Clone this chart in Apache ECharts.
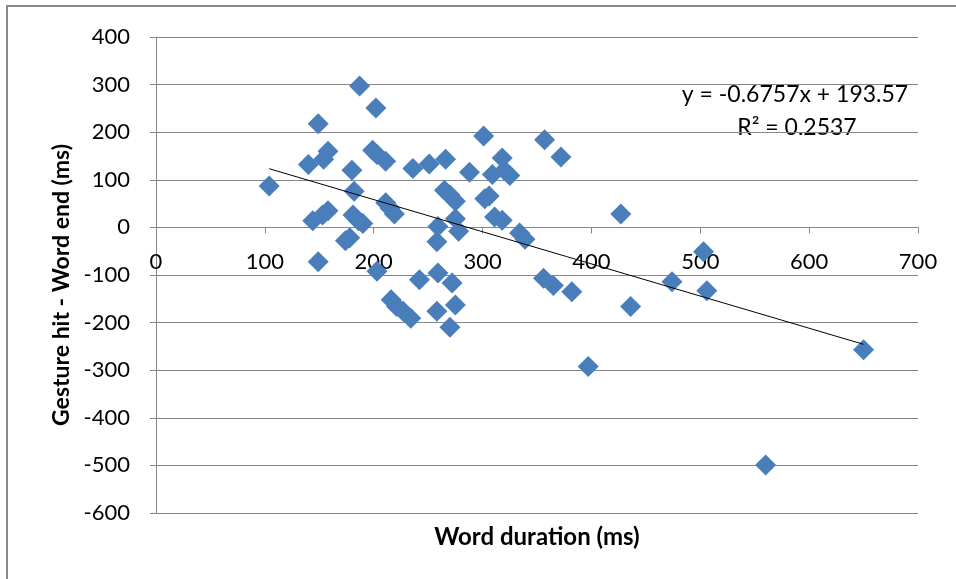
<!DOCTYPE html>
<html>
<head>
<meta charset="utf-8">
<script src="https://cdn.jsdelivr.net/npm/echarts@6/dist/echarts.min.js"></script>
<style>
  html, body { margin: 0; padding: 0; background: #fff; }
  #chart { width: 956px; height: 579px; }
</style>
</head>
<body>
<div id="chart"></div>
<script>
// Word duration (ms) for each observation
var wordDuration = [
  187, 202, 149, 158, 154, 140, 199, 203, 211, 180,
  104, 182, 211, 215, 219, 153, 144, 158, 181, 190,
  186, 174, 178, 149,
  301, 357, 372, 236, 251, 266, 288, 318, 309, 320,
  325, 265, 270, 275, 302, 306, 311, 318, 275, 259,
  278, 258, 334, 339,
  203, 242, 259, 272, 216, 221, 227, 234, 258, 275,
  270, 356, 365, 382,
  427, 503, 474, 506, 436, 397, 650, 560
];
// Gesture hit minus word end (ms), same order
var gestureOffset = [
  297, 251, 218, 160, 143, 132, 162, 153, 139, 120,
  87, 76, 52, 40, 28, 26, 14, 35, 26, 8,
  14, -28, -22, -72,
  192, 184, 148, 124, 133, 143, 116, 146, 111, 120,
  109, 78, 68, 55, 60, 66, 22, 15, 18, 2,
  -8, -30, -12, -25,
  -92, -110, -96, -117, -152, -166, -176, -191, -176, -163,
  -210, -107, -122, -135,
  28, -51, -114, -133, -166, -292, -257, -499
];
// Linear trend fitted to the data
var trendSlope = -0.6757;
var trendIntercept = 193.57;
var trendLabel = 'y = -0.6757x + 193.57';
var r2Label = 'R\u00B2 = 0.2537';

var xTicks = { min: 0, max: 700, interval: 100 };
var yTicks = { min: -600, max: 400, interval: 100 };

var points = wordDuration.map(function (x, i) { return [x, gestureOffset[i]]; });
var xLo = Math.min.apply(null, wordDuration);
var xHi = Math.max.apply(null, wordDuration);
var trendLine = [
  [xLo, trendSlope * xLo + trendIntercept],
  [xHi, trendSlope * xHi + trendIntercept]
];

var FONT = 'Lato';
var grey = '#868686';

// Plot rectangle; the horizontal axis is lifted to cross the vertical axis at 0
var GRID = { left: 156, right: 38, top: 37, bottom: 66 };
var plotH = 579 - GRID.top - GRID.bottom;
var zeroShift = -plotH * (0 - yTicks.min) / (yTicks.max - yTicks.min);

var chart = echarts.init(document.getElementById('chart'), null, { renderer: 'canvas' });
chart.setOption({
  animation: false,
  backgroundColor: '#ffffff',
  grid: { left: GRID.left, right: GRID.right, top: GRID.top, bottom: GRID.bottom, containLabel: false },
  xAxis: {
    type: 'value',
    position: 'bottom',
    offset: zeroShift,
    min: xTicks.min, max: xTicks.max, interval: xTicks.interval,
    axisLine: { show: true, onZero: false, lineStyle: { color: grey, width: 1 } },
    axisTick: { show: true, inside: false, length: 6, lineStyle: { color: grey } },
    axisLabel: { fontFamily: FONT, fontSize: 22, color: '#000', margin: 24 },
    splitLine: { show: false }
  },
  yAxis: {
    type: 'value',
    min: yTicks.min, max: yTicks.max, interval: yTicks.interval,
    axisLine: { show: true, onZero: false, lineStyle: { color: grey, width: 1 } },
    axisTick: { show: true, inside: false, length: 6, lineStyle: { color: grey } },
    axisLabel: { fontFamily: FONT, fontSize: 22, color: '#000', margin: 26 },
    splitLine: { show: true, lineStyle: { color: grey, width: 1 } }
  },
  series: [
    {
      type: 'scatter',
      data: points,
      symbol: 'diamond',
      symbolSize: 21,
      itemStyle: { color: '#4A7EBB', opacity: 1 },
      z: 3
    },
    {
      type: 'line',
      data: trendLine,
      symbol: 'none',
      lineStyle: { color: '#000', width: 1 },
      z: 4
    }
  ],
  graphic: [
    {
      type: 'rect',
      shape: { x: 7, y: 6, width: 1000, height: 700 },
      style: { fill: 'none', stroke: '#8a8a8a', lineWidth: 2 },
      silent: true
    },
    {
      type: 'text',
      x: 537, y: 537,
      style: { text: 'Word duration (ms)', fontFamily: FONT, fontSize: 24, fontWeight: 'bold',
               fill: '#000', align: 'center', verticalAlign: 'middle' }
    },
    {
      type: 'text',
      x: 62, y: 285,
      rotation: Math.PI / 2,
      style: { text: 'Gesture hit - Word end (ms)', fontFamily: FONT, fontSize: 23, fontWeight: 'bold',
               fill: '#000', align: 'center', verticalAlign: 'middle' }
    },
    {
      type: 'text',
      x: 795, y: 95,
      style: { text: trendLabel, fontFamily: FONT, fontSize: 23, fill: '#000',
               align: 'center', verticalAlign: 'middle' }
    },
    {
      type: 'text',
      x: 797, y: 128,
      style: { text: r2Label, fontFamily: FONT, fontSize: 23, fill: '#000',
               align: 'center', verticalAlign: 'middle' }
    }
  ]
});
</script>
</body>
</html>
